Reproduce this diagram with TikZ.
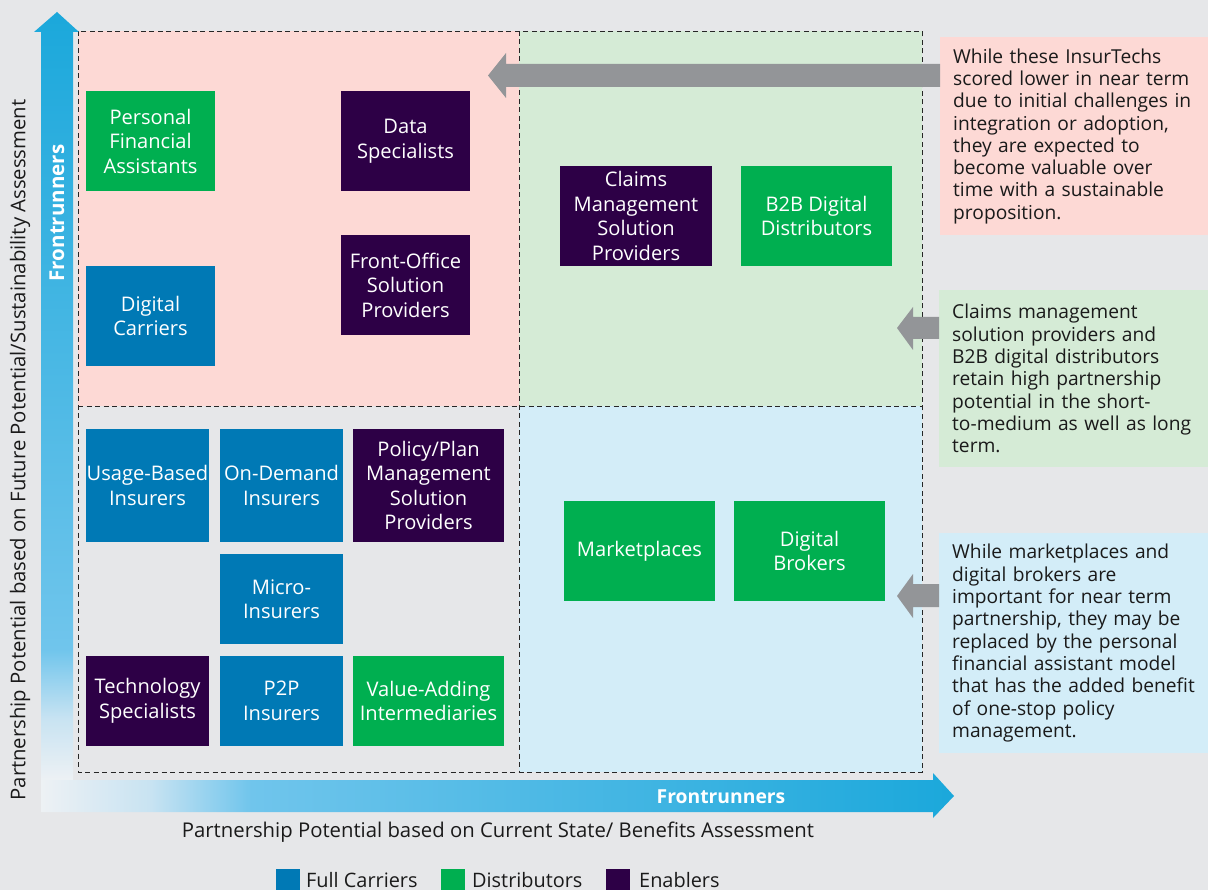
\documentclass[tikz,border=0pt]{standalone}
\usepackage{fontspec}
\setmainfont{Open Sans}
\definecolor{bgc}{HTML}{E6E7E9}
\definecolor{qpink}{HTML}{FDD9D5}
\definecolor{qgreen}{HTML}{D5EBD6}
\definecolor{qblue}{HTML}{D3EDF8}
\definecolor{cblue}{HTML}{0079B5}
\definecolor{cgreen}{HTML}{00AF50}
\definecolor{cpurple}{HTML}{2D0046}
\definecolor{agray}{HTML}{939598}
\definecolor{axw}{HTML}{EDF1F4}
\definecolor{axl}{HTML}{C8E3F2}
\definecolor{axm}{HTML}{70C5EC}
\definecolor{axd}{HTML}{1BA8DB}
\definecolor{txt}{HTML}{1A1A1A}
\pgfdeclareverticalshading{vaxis}{100bp}{color(0bp)=(axw); color(25bp)=(axw); color(29bp)=(axl); color(33.5bp)=(axm); color(75bp)=(axd); color(100bp)=(axd)}
\pgfdeclarehorizontalshading{haxis}{100bp}{color(0bp)=(axw); color(25bp)=(axw); color(31bp)=(axl); color(36.5bp)=(axm); color(75bp)=(axd); color(100bp)=(axd)}
\tikzset{
  cat/.style={rectangle, inner sep=0pt, text=white, align=center,
    font=\fontsize{20.1}{24.5}\selectfont},
  note/.style={rectangle, anchor=north west, inner xsep=13pt, inner ysep=0pt,
    text width=254pt, align=left, text=txt, font=\fontsize{19.2}{22.3}\selectfont},
  dline/.style={draw=black!85, line width=0.9pt, dash pattern=on 5pt off 3.5pt},
  legsq/.style={rectangle, inner sep=0pt, minimum width=24pt, minimum height=24pt},
  legtx/.style={anchor=base west, inner sep=0pt, text=txt, font=\fontsize{19.9}{23}\selectfont},
  axlab/.style={text=txt, font=\fontsize{20.3}{22}\selectfont},
  frtx/.style={text=white, font=\bfseries\fontsize{19.3}{22}\selectfont},
}
\begin{document}
\begin{tikzpicture}[x=1pt,y=-1pt]
\useasboundingbox (0,0) rectangle (1208,890);
\fill[bgc] (0,0) rectangle (1208,890);
% quadrants
\fill[qpink] (78,31) rectangle (519,406);
\fill[qgreen] (519,31) rectangle (922,406);
\fill[qblue] (519,406) rectangle (922,772);
\draw[dline] (78,31) rectangle (922,772);
\draw[dline] (519,31) -- (519,772);
\draw[dline] (78,406) -- (922,406);
% axes arrows
\shade[shading=vaxis] (41,780) -- (41,32) -- (34,32) -- (57,12) -- (79,32) -- (73,32) -- (73,780) -- cycle;
\shade[shading=haxis] (41,780) -- (933,780) -- (933,773) -- (954,796) -- (933,818) -- (933,812) -- (41,812) -- cycle;
\node[frtx, rotate=90, font=\bfseries\fontsize{20.5}{22}\selectfont] (vfr) at (57,213) {Frontrunners};
\node[frtx] (hfr) at (721,797) {Frontrunners};
\node[axlab, rotate=90] (ylab) at (20,450) {Partnership Potential based on Future Potential/Sustainability Assessment};
\node[axlab] (xlab) at (498,832) {Partnership Potential based on Current State/ Benefits Assessment};
% category boxes
\node[cat, fill=cgreen, minimum width=129pt, minimum height=100pt] (pfa) at (150.5,141) {Personal\\Financial\\Assistants};
\node[cat, fill=cpurple, minimum width=129pt, minimum height=100pt] (ds) at (405.5,141) {Data\\Specialists};
\node[cat, fill=cblue, minimum width=129pt, minimum height=100pt] (dc) at (150.5,316) {Digital\\Carriers};
\node[cat, fill=cpurple, minimum width=129pt, minimum height=100pt] (fo) at (405.5,285) {Front-Office\\Solution\\Providers};
\node[cat, fill=cpurple, minimum width=152pt, minimum height=100pt] (cm) at (636,216) {Claims\\Management\\Solution\\Providers};
\node[cat, fill=cgreen, minimum width=151pt, minimum height=100pt] (b2b) at (816.5,216) {B2B Digital\\Distributors};
\node[cat, fill=cblue, minimum width=123pt, minimum height=113pt] (ub) at (147.5,485.5) {Usage-Based\\Insurers};
\node[cat, fill=cblue, minimum width=123pt, minimum height=113pt] (od) at (281.5,485.5) {On-Demand\\Insurers};
\node[cat, fill=cpurple, minimum width=151pt, minimum height=113pt] (pp) at (428.5,485.5) {Policy/Plan\\Management\\Solution\\Providers};
\node[cat, fill=cblue, minimum width=123pt, minimum height=90pt] (mi) at (281.5,599) {Micro-\\Insurers};
\node[cat, fill=cpurple, minimum width=123pt, minimum height=90pt] (ts) at (147.5,701) {Technology\\Specialists};
\node[cat, fill=cblue, minimum width=123pt, minimum height=90pt] (p2p) at (281.5,701) {P2P\\Insurers};
\node[cat, fill=cgreen, minimum width=151pt, minimum height=90pt] (va) at (428.5,701) {Value-Adding\\Intermediaries};
\node[cat, fill=cgreen, minimum width=151pt, minimum height=100pt] (mp) at (639.5,551) {Marketplaces};
\node[cat, fill=cgreen, minimum width=151pt, minimum height=100pt] (db) at (809.5,551) {Digital\\Brokers};
% notes
\node[note, fill=qpink, minimum width=265pt, minimum height=198pt] (n1) at (940,37) {While these InsurTechs\\scored lower in near term\\due to initial challenges in\\integration or adoption,\\they are expected to\\become valuable over\\time with a sustainable\\proposition.};
\node[note, fill=qgreen, minimum width=266pt, minimum height=177pt] (n2) at (939,290) {Claims management\\solution providers and\\B2B digital distributors\\retain high partnership\\potential in the short-\\to-medium as well as long\\term.};
\node[note, fill=qblue, minimum width=266pt, minimum height=220pt] (n3) at (939,533) {While marketplaces and\\digital brokers are\\important for near term\\partnership, they may be\\replaced by the personal\\financial assistant model\\that has the added benefit\\of one-stop policy\\management.};
% gray arrows
\coordinate (t1) at (488,75.5);
\coordinate (t2) at (897,328);
\coordinate (t3) at (897,596);
\fill[agray] (n1.west |- 0,64) -- (506,64) -- (506,53) -- (t1) -- (506,98) -- (506,87) -- (n1.west |- 0,87) -- cycle;
\fill[agray] (n2.west |- 0,317) -- (913,317) -- (913,307) -- (t2) -- (913,350) -- (913,339) -- (n2.west |- 0,339) -- cycle;
\fill[agray] (n3.west |- 0,584) -- (913,584) -- (913,574) -- (t3) -- (913,618) -- (913,607) -- (n3.west |- 0,607) -- cycle;
% legend
\node[legsq, fill=cblue] (l1) at (288,881) {};
\node[legtx] (l1t) at (306,887) {Full Carriers};
\node[legsq, fill=cgreen] (l2) at (453,881) {};
\node[legtx] (l2t) at (472,887) {Distributors};
\node[legsq, fill=cpurple] (l3) at (618,881) {};
\node[legtx] (l3t) at (639,887) {Enablers};
\end{tikzpicture}
\end{document}
